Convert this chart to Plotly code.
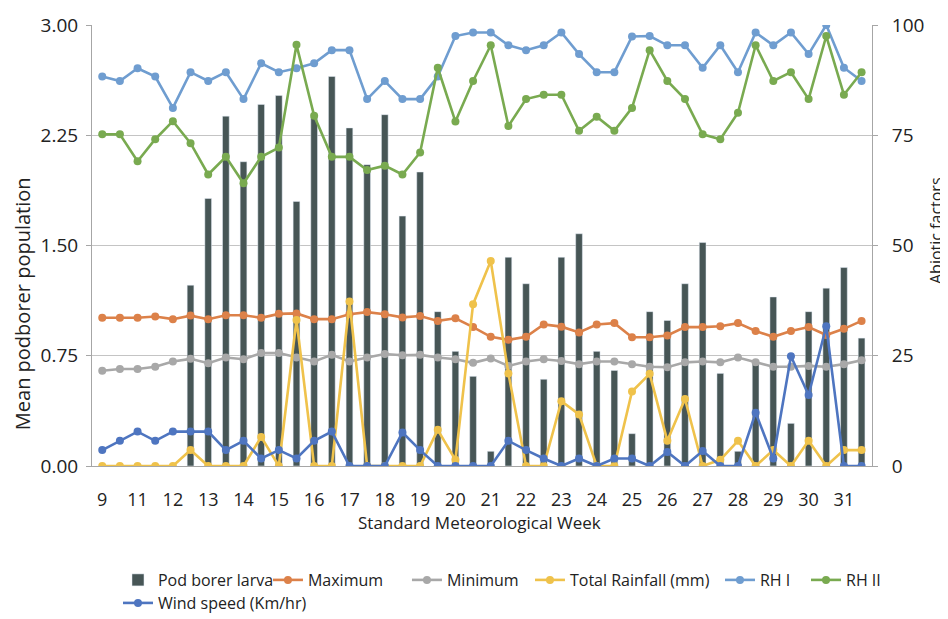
import plotly.graph_objects as go

# ---------------- data ----------------
week_labels = ["9", "11", "12", "13", "14", "15", "16", "17", "18", "19", "20",
               "21", "22", "23", "24", "25", "26", "27", "28", "29", "30", "31"]

pod_borer = [0, 0, 0, 0, 0, 1.23, 1.82, 2.38, 2.07, 2.46, 2.52, 1.80, 2.37, 2.65,
             2.30, 2.05, 2.39, 1.70, 2.00, 1.05, 0.78, 0.61, 0.10, 1.42, 1.24, 0.59,
             1.42, 1.58, 0.78, 0.65, 0.22, 1.05, 0.99, 1.24, 1.52, 0.63, 0.10, 0.70,
             1.15, 0.29, 1.05, 1.21, 1.35, 0.87]

maximum = [33.6, 33.6, 33.6, 33.9, 33.3, 34.1, 33.3, 34.2, 34.2, 33.6, 34.5, 34.6,
           33.3, 33.3, 34.4, 34.9, 34.4, 33.7, 34.0, 32.9, 33.5, 31.5, 29.3, 28.6,
           29.3, 32.1, 31.6, 30.3, 32.1, 32.4, 29.2, 29.2, 29.6, 31.5, 31.5, 31.7,
           32.4, 30.6, 29.3, 30.6, 31.5, 29.7, 31.1, 32.9]

minimum = [21.6, 22.0, 22.0, 22.5, 23.7, 24.3, 23.3, 24.6, 24.2, 25.6, 25.6, 24.6,
           23.7, 25.2, 23.7, 24.6, 25.4, 25.1, 25.2, 24.6, 24.2, 23.4, 24.4, 22.7,
           23.7, 24.2, 23.8, 23.1, 23.7, 23.7, 23.1, 22.5, 22.4, 23.5, 23.7, 23.5,
           24.6, 23.5, 22.5, 22.5, 22.7, 22.5, 23.1, 24.0]

rainfall = [0, 0, 0, 0, 0, 3.6, 0, 0, 0, 6.6, 0, 33.1, 0, 0, 37.3, 0, 0, 0, 0, 8.2,
            1.4, 36.7, 46.5, 21.0, 0, 0, 14.7, 11.7, 0, 0, 16.9, 20.9, 5.7, 15.2, 0,
            1.4, 5.7, 0, 3.6, 0, 5.7, 0, 3.6, 3.6]

rh1 = [88.3, 87.3, 90.2, 88.3, 81.2, 89.3, 87.3, 89.3, 83.2, 91.3, 89.3, 90.2, 91.3,
       94.3, 94.3, 83.2, 87.3, 83.2, 83.2, 88.3, 97.5, 98.3, 98.3, 95.4, 94.3, 95.4,
       98.3, 93.4, 89.3, 89.3, 97.4, 97.5, 95.4, 95.4, 90.3, 95.4, 89.3, 98.3, 95.4,
       98.3, 93.4, 100.0, 90.3, 87.3]

rh2 = [75.2, 75.2, 69.1, 74.1, 78.2, 73.2, 66.1, 70.1, 64.1, 70.1, 72.2, 95.5, 79.4,
       70.1, 70.1, 67.1, 68.1, 66.1, 71.1, 90.3, 78.1, 87.3, 95.4, 77.1, 83.2, 84.2,
       84.2, 76.0, 79.2, 76.0, 81.2, 94.3, 87.3, 83.2, 75.2, 74.1, 80.1, 95.4, 87.3,
       89.3, 83.2, 97.5, 84.2, 89.3]

wind = [3.6, 5.7, 7.8, 5.7, 7.8, 7.8, 7.8, 3.6, 5.7, 1.7, 3.6, 1.7, 5.7, 7.8, 0, 0,
        0, 7.6, 3.6, 0, 0, 0, 0, 5.7, 3.6, 1.7, 0, 1.7, 0, 1.7, 1.7, 0, 3.2, 0, 3.4,
        0, 0, 12.1, 1.7, 24.9, 16.1, 31.7, 0, 0]

x = list(range(len(pod_borer)))
tick_pos = x[::2]

# ---------------- styles ----------------
FONT = "Open Sans, Lato, sans-serif"
GRID = "#c4c4c4"
TXT = "#222222"

fig = go.Figure()

fig.add_trace(go.Bar(x=x, y=pod_borer, name="Pod borer larva", marker_color="#475656",
                     width=0.38, yaxis="y", legend="legend"))

line_series = [
    ("Maximum", maximum, "#dc8149", "legend2"),
    ("Minimum", minimum, "#a8a8a8", "legend3"),
    ("Total Rainfall (mm)", rainfall, "#efc24b", "legend4"),
    ("RH I", rh1, "#6f9dd0", "legend5"),
    ("RH II", rh2, "#79aa50", "legend6"),
    ("Wind speed (Km/hr)", wind, "#4e75c0", "legend7"),
]
for name, vals, col, leg in line_series:
    fig.add_trace(go.Scatter(x=x, y=vals, name=name, mode="lines+markers",
                             line=dict(color=col, width=2.6),
                             marker=dict(color=col, size=8),
                             yaxis="y2", legend=leg))

# legend placement (one entry per legend box): (key, paper x, paper y)
legend_pos = [("legend", 0.0333, -0.2585), ("legend2", 0.2256, -0.2585),
              ("legend3", 0.4038, -0.2585), ("legend4", 0.5615, -0.2585),
              ("legend5", 0.8051, -0.2585), ("legend6", 0.9154, -0.2585),
              ("legend7", 0.0333, -0.3107)]
legend_cfg = {}
for key, lx, ly in legend_pos:
    legend_cfg[key] = dict(orientation="h", x=lx, y=ly, xanchor="left",
                           yanchor="middle", bgcolor="rgba(0,0,0,0)",
                           font=dict(size=16, family=FONT, color=TXT),
                           itemwidth=30)

fig.update_layout(
    width=940, height=611,
    margin=dict(l=84, r=76, t=17, b=153, autoexpand=False),
    paper_bgcolor="white", plot_bgcolor="white",
    font=dict(family=FONT, size=16, color=TXT),
    xaxis=dict(range=[-0.58, 43.59], tickvals=tick_pos, ticktext=week_labels,
               showgrid=False, showline=True, linecolor="#a6a6a6", linewidth=1,
               ticks="", ticklabelstandoff=17,
               tickfont=dict(size=18, family=FONT, color=TXT), zeroline=False),
    yaxis=dict(range=[0, 3.0], tickvals=[0, 0.75, 1.5, 2.25, 3.0],
               ticktext=["0.00", "0.75", "1.50", "2.25", "3.00"],
               showgrid=True, gridcolor=GRID, gridwidth=1.2,
               showline=True, linecolor="#a6a6a6", zeroline=False,
               tickfont=dict(size=19, family=FONT, color=TXT), ticklen=5,
               ticks="outside", tickcolor="#a6a6a6", ticklabelstandoff=4),
    yaxis2=dict(range=[0, 100], tickvals=[0, 25, 50, 75, 100], overlaying="y",
                side="right", showgrid=False, showline=True, linecolor="#a6a6a6",
                zeroline=False, tickfont=dict(size=19, family=FONT, color=TXT),
                ticks="outside", ticklen=5, tickcolor="#a6a6a6",
                ticklabelstandoff=10),
    showlegend=True,
    annotations=[
        dict(text="Mean podborer population", xref="paper", yref="paper",
             x=-0.0897, y=0.367, xanchor="center", yanchor="middle", textangle=-90,
             showarrow=False, font=dict(size=20, family=FONT, color=TXT)),
        dict(text="Abiotic factors", xref="paper", yref="paper",
             x=1.082, y=0.535, xanchor="center", yanchor="middle", textangle=-90,
             showarrow=False, font=dict(size=16, family=FONT, color=TXT)),
        dict(text="Standard Meteorological Week", xref="paper", yref="paper",
             x=0.497, y=-0.129, xanchor="center", yanchor="middle",
             showarrow=False, font=dict(size=17, family=FONT, color=TXT)),
    ],
    **legend_cfg,
)

fig.write_html("out.html")
